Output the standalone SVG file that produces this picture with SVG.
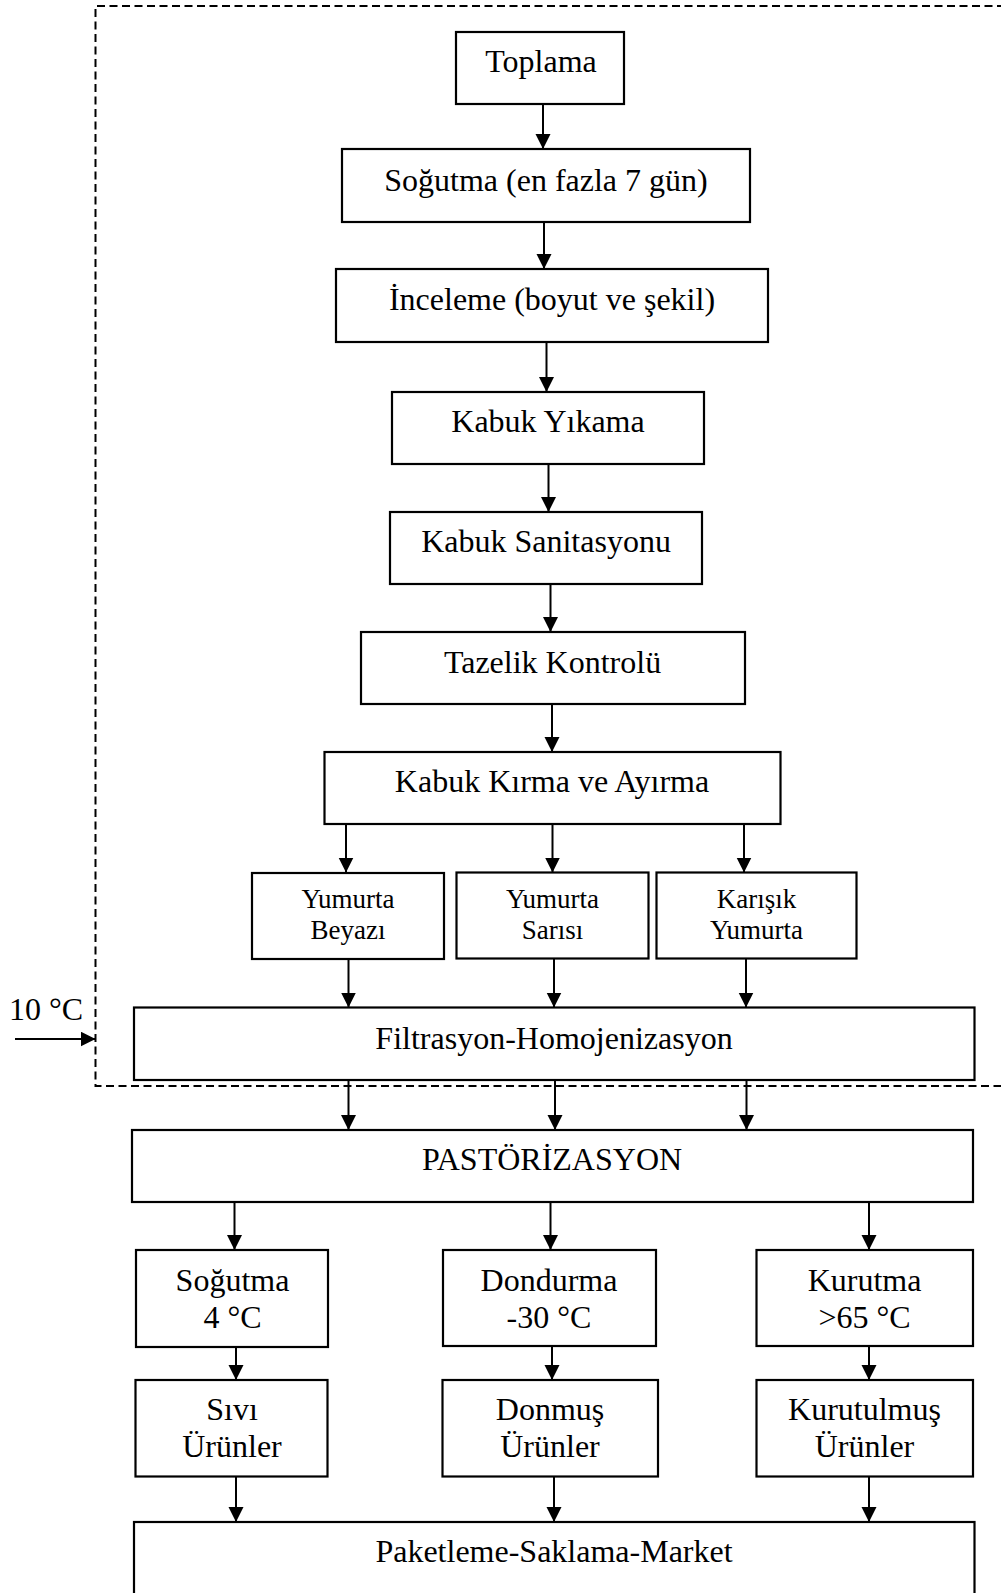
<svg xmlns="http://www.w3.org/2000/svg" width="1001" height="1593" viewBox="0 0 1001 1593">
<style>
  .box { fill: #fff; stroke: #000; stroke-width: 2.2; }
  .t { font-family: "Liberation Serif", "Times New Roman", serif; font-size: 32px; fill: #000; text-anchor: middle; }
  .ts { font-family: "Liberation Serif", "Times New Roman", serif; font-size: 27px; fill: #000; text-anchor: middle; }
  .conn line { stroke: #000; stroke-width: 2; marker-end: url(#ah); }
  .dash { fill: none; stroke: #000; stroke-width: 2; stroke-dasharray: 8 4.5; }
</style>
<defs>
  <marker id="ah" markerUnits="userSpaceOnUse" markerWidth="18" markerHeight="18" refX="15" refY="7.5" orient="auto">
    <path d="M0,0 L15,7.5 L0,15 Z" fill="#000"/>
  </marker>
</defs>
<rect width="1001" height="1593" fill="#fff"/>

<g id="boundary">
  <polyline class="dash" points="1005,6 95.5,6 95.5,1086 1005,1086"/>
</g>

<g id="n-toplama"><rect class="box" x="456" y="32" width="168" height="72"/><text class="t" x="541" y="72">Toplama</text></g>
<g id="n-sogutma1"><rect class="box" x="342" y="149" width="408" height="73"/><text class="t" x="546" y="191">Soğutma (en fazla 7 gün)</text></g>
<g id="n-inceleme"><rect class="box" x="336" y="269" width="432" height="73"/><text class="t" x="552" y="310">İnceleme (boyut ve şekil)</text></g>
<g id="n-yikama"><rect class="box" x="392" y="392" width="312" height="72"/><text class="t" x="548" y="432">Kabuk Yıkama</text></g>
<g id="n-sanitasyon"><rect class="box" x="390" y="512" width="312" height="72"/><text class="t" x="546" y="552">Kabuk Sanitasyonu</text></g>
<g id="n-tazelik"><rect class="box" x="361" y="632" width="384" height="72"/><text class="t" x="552.5" y="673">Tazelik Kontrolü</text></g>
<g id="n-kirma"><rect class="box" x="324.5" y="752" width="456" height="72"/><text class="t" x="552" y="792">Kabuk Kırma ve Ayırma</text></g>
<g id="n-beyaz"><rect class="box" x="252" y="873" width="192" height="86"/><text class="ts" x="348" y="908">Yumurta</text><text class="ts" x="348" y="938.5">Beyazı</text></g>
<g id="n-sari"><rect class="box" x="456.5" y="872.5" width="192" height="86"/><text class="ts" x="552.5" y="908">Yumurta</text><text class="ts" x="552.5" y="938.5">Sarısı</text></g>
<g id="n-karisik"><rect class="box" x="656.5" y="872.5" width="200" height="86"/><text class="ts" x="756.5" y="908">Karışık</text><text class="ts" x="756.5" y="938.5">Yumurta</text></g>
<g id="n-filtrasyon"><rect class="box" x="134" y="1007.5" width="840.5" height="72.5"/><text class="t" x="554" y="1048.5">Filtrasyon-Homojenizasyon</text></g>
<g id="n-temp"><text class="t" x="46" y="1020">10 °C</text></g>
<g id="n-past"><rect class="box" x="132" y="1130" width="841" height="72"/><text class="t" x="552" y="1170">PASTÖRİZASYON</text></g>
<g id="n-sogutma2"><rect class="box" x="136" y="1250" width="192" height="97"/><text class="t" x="232.5" y="1291">Soğutma</text><text class="t" x="232.5" y="1328">4 °C</text></g>
<g id="n-dondurma"><rect class="box" x="443" y="1250" width="213" height="96"/><text class="t" x="549" y="1291">Dondurma</text><text class="t" x="549" y="1328">-30 °C</text></g>
<g id="n-kurutma"><rect class="box" x="756.5" y="1250" width="216.5" height="96"/><text class="t" x="864.5" y="1291">Kurutma</text><text class="t" x="864.5" y="1328">&gt;65 °C</text></g>
<g id="n-sivi"><rect class="box" x="135.5" y="1380" width="192" height="96.5"/><text class="t" x="232" y="1419.5">Sıvı</text><text class="t" x="232" y="1457">Ürünler</text></g>
<g id="n-donmus"><rect class="box" x="442.5" y="1380" width="215.5" height="96.5"/><text class="t" x="550" y="1419.5">Donmuş</text><text class="t" x="550" y="1457">Ürünler</text></g>
<g id="n-kurutulmus"><rect class="box" x="756.5" y="1380" width="216.5" height="96.5"/><text class="t" x="864.5" y="1419.5">Kurutulmuş</text><text class="t" x="864.5" y="1457">Ürünler</text></g>
<g id="n-paketleme"><rect class="box" x="134" y="1522" width="840.5" height="100"/><text class="t" x="554" y="1562">Paketleme-Saklama-Market</text></g>

<g id="connectors" class="conn">
  <line x1="543" y1="104" x2="543" y2="149"/>
  <line x1="544" y1="222" x2="544" y2="269"/>
  <line x1="546.5" y1="342" x2="546.5" y2="392"/>
  <line x1="548.5" y1="464" x2="548.5" y2="512"/>
  <line x1="550.5" y1="584" x2="550.5" y2="632"/>
  <line x1="552" y1="704" x2="552" y2="752"/>
  <line x1="346" y1="824" x2="346" y2="872.5"/>
  <line x1="552.5" y1="824" x2="552.5" y2="872.5"/>
  <line x1="744" y1="824" x2="744" y2="872.5"/>
  <line x1="348.5" y1="959" x2="348.5" y2="1007.5"/>
  <line x1="554" y1="958.5" x2="554" y2="1007.5"/>
  <line x1="746" y1="958.5" x2="746" y2="1007.5"/>
  <line x1="15" y1="1039" x2="95.5" y2="1039"/>
  <line x1="348.5" y1="1080" x2="348.5" y2="1130"/>
  <line x1="555" y1="1080" x2="555" y2="1130"/>
  <line x1="746.5" y1="1080" x2="746.5" y2="1130"/>
  <line x1="234.5" y1="1202" x2="234.5" y2="1250"/>
  <line x1="550.5" y1="1202" x2="550.5" y2="1250"/>
  <line x1="869" y1="1202" x2="869" y2="1250"/>
  <line x1="236" y1="1347" x2="236" y2="1380"/>
  <line x1="552" y1="1346" x2="552" y2="1380"/>
  <line x1="869" y1="1346" x2="869" y2="1380"/>
  <line x1="236" y1="1476.5" x2="236" y2="1522"/>
  <line x1="554" y1="1476.5" x2="554" y2="1522"/>
  <line x1="869" y1="1476.5" x2="869" y2="1522"/>
</g>
</svg>
